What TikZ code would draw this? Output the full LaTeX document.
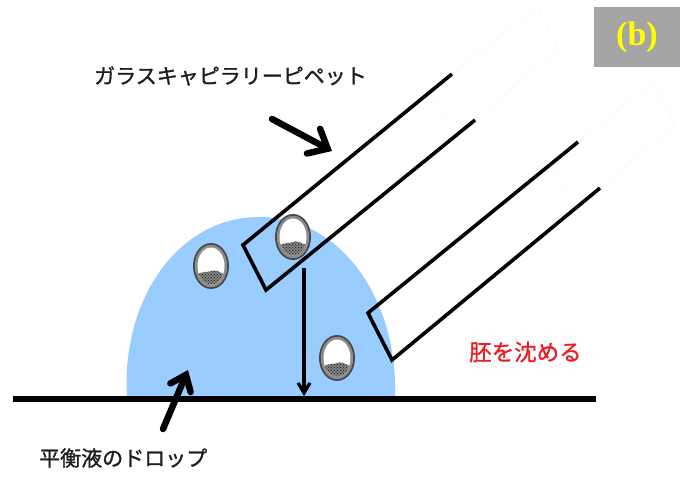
\documentclass[tikz,border=0pt]{standalone}
\usepackage{fontspec}
\setmainfont{Liberation Serif}
\newfontfamily\jpfont[FakeBold=1.2]{Noto Sans CJK JP}
\usetikzlibrary{arrows.meta,patterns}
\definecolor{dropblue}{RGB}{153,204,255}
\definecolor{labelred}{RGB}{235,30,40}
\definecolor{labelgray}{RGB}{30,30,30}
\definecolor{tagbg}{RGB}{165,165,165}
\definecolor{tagfg}{RGB}{255,255,0}
\tikzset{
  pipette/.style={line width=3.6pt, line join=miter},
  pipetteend/.style={line width=0.6pt, draw=black!3},
  pointer/.style={line width=6.5pt, line cap=round,
    -{Straight Barb[length=16pt,width=28pt,line cap=round]}},
  sinkarrow/.style={line width=3.2pt, -{Straight Barb[length=10pt,width=12pt]}},
  jplabel/.style={font=\jpfont\fontsize{21pt}{23pt}\selectfont, text=labelgray, inner sep=0pt},
  embryo/.pic={
    \fill[black!72] (0,0) ellipse [x radius=18, y radius=23];
    \fill[black!45] (0,0) ellipse [x radius=16.2, y radius=21.2];
    \fill[white] (0,0) ellipse [x radius=13.5, y radius=18.5];
    \begin{scope}
      \clip (0,0) ellipse [x radius=13.5, y radius=18.5];
      \fill[black!50] (-16,10) .. controls (-8,4) and (-3,7) .. (0,5)
        .. controls (4,3) and (9,6) .. (16,10) -- (16,22) -- (-16,22) -- cycle;
      \fill[pattern=crosshatch dots, pattern color=black!90] (-16,10) .. controls (-8,4) and (-3,7) .. (0,5)
        .. controls (4,3) and (9,6) .. (16,10) -- (16,22) -- (-16,22) -- cycle;
    \end{scope}
  }
}
\begin{document}
\begin{tikzpicture}[x=1pt,y=-1pt]
\useasboundingbox (0,0) rectangle (685,492);

% drop of balanced medium
\fill[dropblue] (127,397) .. controls (121,300) and (178,217) .. (259,217)
  .. controls (342,217) and (398,300) .. (395,397) -- cycle;

% faint far ends of the two pipettes
\draw[pipetteend] (452,74) -- (537,7) -- (558,48) -- (475,120);
\draw[pipetteend] (433,95) -- (452,130);
\draw[pipetteend] (578,142) -- (653,82) -- (675,125) -- (600,188);
\draw[pipetteend] (552,165) -- (570,197);

% glass capillary pipettes
\draw[pipette] (452,74) -- (243,245) -- (266,290) -- (475,120);
\draw[pipette] (578,142) -- (368,313) -- (392,360) -- (600,188);

% dish floor
\draw[line width=6pt] (13,399) -- (596,399);

% sinking path
\coordinate (sinktop) at (304,268);
\coordinate (sinkbot) at (304,396);
\draw[sinkarrow] (sinktop) -- (sinkbot);

% embryos
\pic at (211,266) {embryo};
\pic at (293,237) {embryo};
\pic at (337,358) {embryo};

% labels
\node[jplabel, anchor=west] (pipettelabel) at (94,76) {ガラスキャピラリーピペット};
\node[jplabel, anchor=west] (droplabel) at (39,458) {平衡液のドロップ};
\node[jplabel, anchor=west, text=labelred, font=\jpfont\fontsize{22.5pt}{24pt}\selectfont] (sinklabel) at (469,352) {胚を沈める};

% pointers
\coordinate (ptail1) at (272,119);
\coordinate (phead1) at (332,151);
\draw[pointer] (ptail1) -- (phead1);
\coordinate (ptail2) at (163,429);
\coordinate (phead2) at (188,370);
\draw[pointer, -{Straight Barb[length=14pt,width=22pt,line cap=round]}] (ptail2) -- (phead2);

% panel tag
\node[fill=tagbg, minimum width=86pt, minimum height=60pt, inner sep=0pt,
  text=tagfg, font=\bfseries\fontsize{34pt}{36pt}\selectfont] (tag) at (637,37) {(b)};
\end{tikzpicture}
\end{document}
